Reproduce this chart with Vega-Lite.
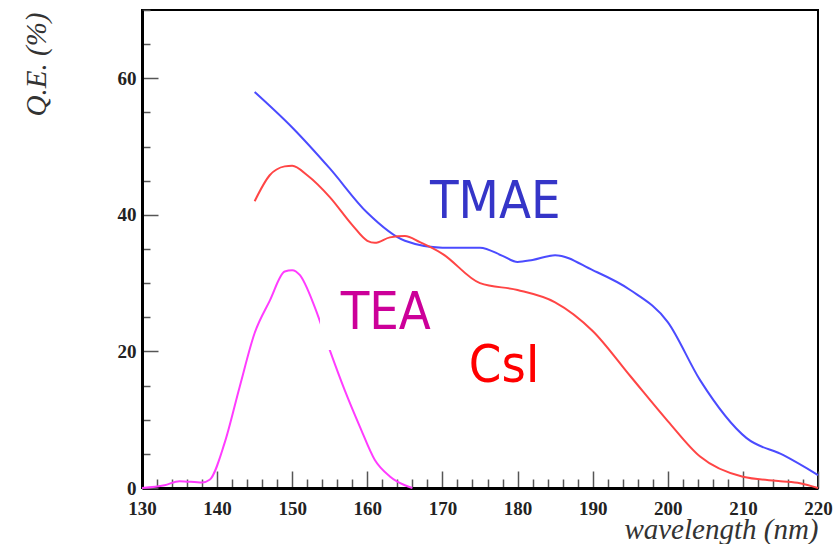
{
  "$schema": "https://vega.github.io/schema/vega-lite/v6.json",
  "width": 676,
  "height": 478,
  "autosize": {"type": "none"},
  "padding": {"left": 142, "top": 10, "right": 18, "bottom": 56},
  "background": "white",
  "config": {
    "view": {"stroke": "black", "strokeWidth": 2},
    "axis": {
      "domainColor": "black",
      "domainWidth": 3,
      "tickColor": "#555555",
      "tickWidth": 1.5,
      "labelFont": "Liberation Serif",
      "labelFontWeight": "bold",
      "labelFontSize": 19,
      "labelColor": "#222222",
      "titleFont": "Liberation Serif",
      "titleFontStyle": "italic",
      "titleFontWeight": "normal",
      "titleFontSize": 29,
      "titleColor": "#333333",
      "grid": false
    }
  },
  "datasets": {
    "curves": [
      {"series": "TMAE", "wl": 145, "qe": 58.0},
      {"series": "TMAE", "wl": 150, "qe": 52.8},
      {"series": "TMAE", "wl": 155, "qe": 46.8},
      {"series": "TMAE", "wl": 160, "qe": 40.3},
      {"series": "TMAE", "wl": 165, "qe": 36.2},
      {"series": "TMAE", "wl": 170, "qe": 35.2},
      {"series": "TMAE", "wl": 175, "qe": 35.2},
      {"series": "TMAE", "wl": 178, "qe": 34.0},
      {"series": "TMAE", "wl": 180, "qe": 33.1},
      {"series": "TMAE", "wl": 182, "qe": 33.4},
      {"series": "TMAE", "wl": 185, "qe": 34.1},
      {"series": "TMAE", "wl": 190, "qe": 31.9},
      {"series": "TMAE", "wl": 195, "qe": 29.0},
      {"series": "TMAE", "wl": 200, "qe": 24.3},
      {"series": "TMAE", "wl": 204.3, "qe": 15.8},
      {"series": "TMAE", "wl": 210.5, "qe": 7.3},
      {"series": "TMAE", "wl": 215.4, "qe": 4.8},
      {"series": "TMAE", "wl": 220, "qe": 1.9},
      {"series": "CsI", "wl": 145, "qe": 42.0},
      {"series": "CsI", "wl": 147, "qe": 45.8},
      {"series": "CsI", "wl": 149, "qe": 47.1},
      {"series": "CsI", "wl": 150, "qe": 47.2},
      {"series": "CsI", "wl": 152, "qe": 45.8},
      {"series": "CsI", "wl": 155, "qe": 42.6},
      {"series": "CsI", "wl": 158, "qe": 38.5},
      {"series": "CsI", "wl": 160, "qe": 36.2},
      {"series": "CsI", "wl": 161, "qe": 35.9},
      {"series": "CsI", "wl": 163, "qe": 36.7},
      {"series": "CsI", "wl": 165, "qe": 36.9},
      {"series": "CsI", "wl": 167, "qe": 36.0},
      {"series": "CsI", "wl": 170, "qe": 34.3},
      {"series": "CsI", "wl": 175, "qe": 30.0},
      {"series": "CsI", "wl": 180, "qe": 29.0},
      {"series": "CsI", "wl": 185, "qe": 27.2},
      {"series": "CsI", "wl": 190, "qe": 23.0},
      {"series": "CsI", "wl": 195, "qe": 16.4},
      {"series": "CsI", "wl": 200, "qe": 9.8},
      {"series": "CsI", "wl": 204.3, "qe": 4.6},
      {"series": "CsI", "wl": 210, "qe": 1.65},
      {"series": "CsI", "wl": 215, "qe": 1.0},
      {"series": "CsI", "wl": 217.6, "qe": 0.7},
      {"series": "CsI", "wl": 220, "qe": 0.0},
      {"series": "TEA", "wl": 130, "qe": 0.0},
      {"series": "TEA", "wl": 133, "qe": 0.4},
      {"series": "TEA", "wl": 135, "qe": 1.0},
      {"series": "TEA", "wl": 138, "qe": 0.8},
      {"series": "TEA", "wl": 139, "qe": 1.2},
      {"series": "TEA", "wl": 141, "qe": 6.6},
      {"series": "TEA", "wl": 143, "qe": 14.8},
      {"series": "TEA", "wl": 145, "qe": 22.7},
      {"series": "TEA", "wl": 147, "qe": 27.4},
      {"series": "TEA", "wl": 149, "qe": 31.7},
      {"series": "TEA", "wl": 150, "qe": 31.9},
      {"series": "TEA", "wl": 151, "qe": 31.2},
      {"series": "TEA", "wl": 153, "qe": 26.5},
      {"series": "TEA", "wl": 155, "qe": 20.2},
      {"series": "TEA", "wl": 157, "qe": 14.3},
      {"series": "TEA", "wl": 159, "qe": 9.0},
      {"series": "TEA", "wl": 161, "qe": 4.1},
      {"series": "TEA", "wl": 163, "qe": 1.7},
      {"series": "TEA", "wl": 165, "qe": 0.4},
      {"series": "TEA", "wl": 166, "qe": 0.0}
    ],
    "mask": [
      {"x0": 153.7, "x1": 169.0, "y0": 20.2, "y1": 28.6}
    ],
    "labels": [
      {"label": "TMAE", "wl": 168.35, "qe": 39.5},
      {"label": "TEA", "wl": 156.46, "qe": 23.3},
      {"label": "CsI", "wl": 173.5, "qe": 15.5}
    ]
  },
  "layer": [
    {
      "data": {"name": "curves"},
      "mark": {"type": "line", "interpolate": "monotone", "strokeWidth": 2},
      "encoding": {
        "x": {
          "field": "wl", "type": "quantitative",
          "scale": {"domain": [130, 220], "nice": false, "zero": false},
          "axis": {
            "title": "wavelength (nm)",
            "values": [130,132,134,136,138,140,142,144,146,148,150,152,154,156,158,160,162,164,166,168,170,172,174,176,178,180,182,184,186,188,190,192,194,196,198,200,202,204,206,208,210,212,214,216,218,220],
            "tickCount": 200,
            "format": "d",
            "labelExpr": "datum.value % 10 === 0 ? datum.label : ''",
            "tickSize": {"condition": {"test": "datum.value % 10 === 0", "value": -17}, "value": -9},
            "labelPadding": 28,
            "labelFlush": false,
            "labelOverlap": false,
            "titleAnchor": "end",
            "titleAlign": "right",
            "titleX": 676,
            "titleY": 50,
            "titleBaseline": "alphabetic"
          }
        },
        "y": {
          "field": "qe", "type": "quantitative",
          "scale": {"domain": [0, 70], "nice": false},
          "axis": {
            "title": "Q.E. (%)",
            "values": [0,5,10,15,20,25,30,35,40,45,50,55,60,65,70],
            "tickCount": 200,
            "format": "d",
            "labelExpr": "datum.value % 20 === 0 ? datum.label : ''",
            "tickSize": {"condition": {"test": "datum.value % 20 === 0", "value": -16}, "value": -8},
            "labelPadding": 22,
            "labelFlush": false,
            "labelOverlap": false,
            "titleAngle": -90,
            "titleAnchor": "end",
            "titleAlign": "right",
            "titleBaseline": "alphabetic",
            "titleX": -97,
            "titleY": 2
          }
        },
        "color": {
          "field": "series", "type": "nominal",
          "scale": {"domain": ["TMAE", "CsI", "TEA"], "range": ["#4b4bff", "#ff4545", "#ff3cff"]},
          "legend": null
        }
      }
    },
    {
      "data": {"name": "mask"},
      "mark": {"type": "rect", "fill": "white"},
      "encoding": {
        "x": {"field": "x0", "type": "quantitative"},
        "x2": {"field": "x1"},
        "y": {"field": "y0", "type": "quantitative"},
        "y2": {"field": "y1"}
      }
    },
    {
      "data": {"name": "labels"},
      "mark": {"type": "text", "align": "left", "baseline": "alphabetic", "font": "DejaVu Sans Condensed, Liberation Sans", "fontSize": 52},
      "encoding": {
        "x": {"field": "wl", "type": "quantitative"},
        "y": {"field": "qe", "type": "quantitative"},
        "text": {"field": "label"},
        "color": {
          "field": "label", "type": "nominal",
          "scale": {"domain": ["TMAE", "TEA", "CsI"], "range": ["#3535c8", "#cc0099", "#ff0000"]},
          "legend": null
        }
      }
    }
  ],
  "resolve": {"scale": {"color": "independent"}}
}
